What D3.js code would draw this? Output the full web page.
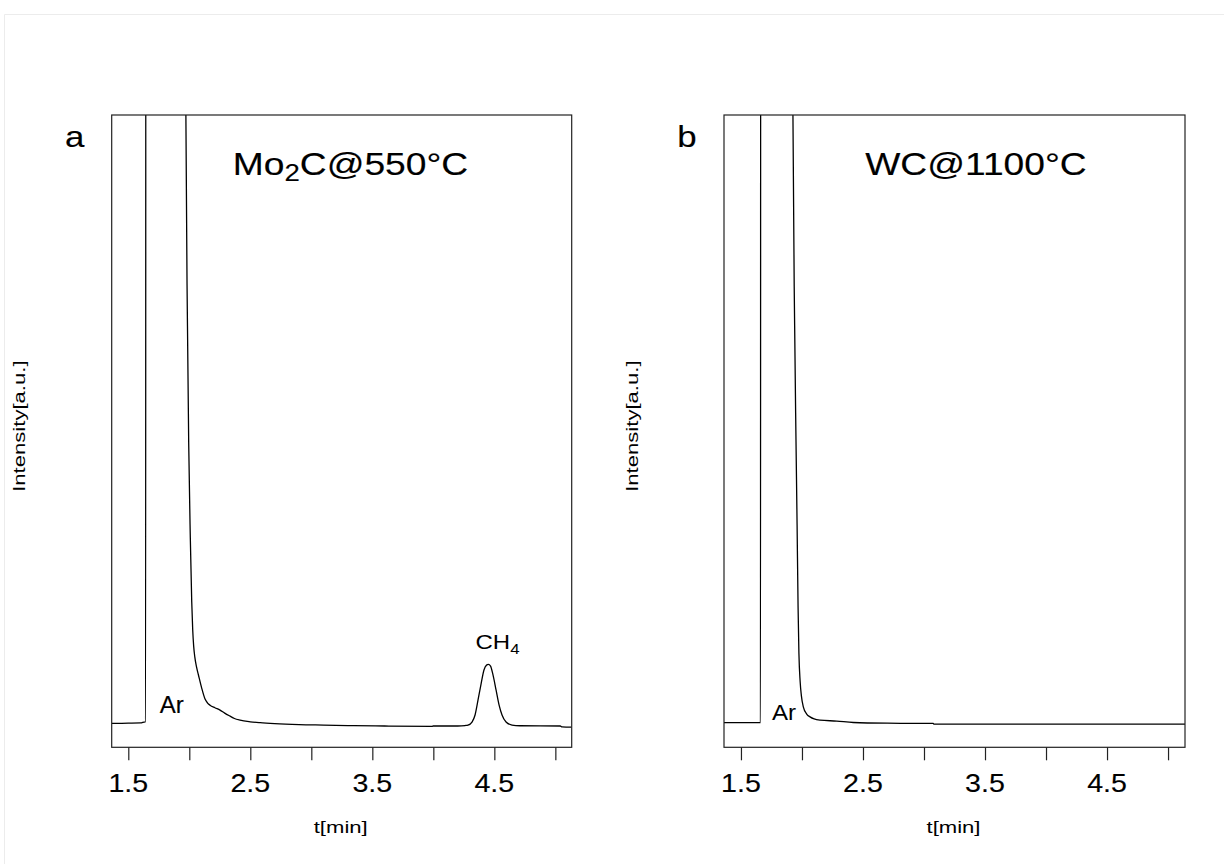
<!DOCTYPE html>
<html>
<head>
<meta charset="utf-8">
<script src="https://cdn.jsdelivr.net/npm/d3@7"></script>
<style>
  html, body { margin: 0; padding: 0; background: #fff; }
  svg { display: block; }
  text { font-family: "Liberation Sans", Arial, Helvetica, sans-serif; fill: #000; }
</style>
</head>
<body>
<svg id="chart" width="1224" height="864"></svg>
<script>
// Chromatogram traces: retention time (min) and detector intensity (a.u.)
const timeA = [1.364, 1.500, 1.600, 1.638, 1.642, 1.644, 1.966, 1.972, 1.985, 1.995, 2.008, 2.020, 2.028, 2.036, 2.045, 2.060, 2.074, 2.100, 2.129, 2.150, 2.170, 2.210, 2.252, 2.290, 2.334, 2.370, 2.416, 2.500, 2.580, 2.700, 2.900, 3.100, 3.300, 3.600, 3.990, 4.000, 4.200, 4.260, 4.284, 4.317, 4.342, 4.366, 4.391, 4.415, 4.436, 4.451, 4.469, 4.489, 4.514, 4.539, 4.563, 4.596, 4.645, 4.710, 5.040, 5.055, 5.134];
const intensityA = [0.01, 0.02, 0.03, 0.08, 0.08, 40, 40, 26, 17, 12, 8, 5.2, 4.0, 3.3, 2.85, 2.4, 2.1, 1.55, 1.05, 0.88, 0.79, 0.68, 0.58, 0.45, 0.32, 0.22, 0.15, 0.08, 0.04, 0.00, -0.04, -0.06, -0.08, -0.10, -0.115, -0.10, -0.10, -0.08, -0.06, 0.07, 0.37, 1.0, 1.69, 2.29, 2.50, 2.53, 2.46, 2.08, 1.44, 0.79, 0.37, 0.07, -0.06, -0.09, -0.10, -0.14, -0.15];

const timeB = [1.361, 1.500, 1.660, 1.662, 1.920, 1.926, 1.940, 1.950, 1.960, 1.968, 1.975, 1.985, 1.995, 2.011, 2.040, 2.066, 2.100, 2.148, 2.285, 2.421, 2.700, 3.076, 3.080, 4.000, 5.139];
const intensityB = [0.04, 0.04, 0.04, 40, 40, 26, 17, 12.5, 8.5, 5, 3.0, 1.8, 1.2, 0.72, 0.40, 0.29, 0.20, 0.15, 0.11, 0.05, 0.02, 0.01, -0.02, -0.02, -0.02];

// Axis ticks and labels
const tickValues = [1.5, 2.0, 2.5, 3.0, 3.5, 4.0, 4.5, 5.0];
const tickLabels = ["1.5", "2.5", "3.5", "4.5"];

// Panel annotations
const panelLetters = ["a", "b"];
const sampleNames = [["Mo", "2", "C@550°C"], ["WC@1100°C"]];

const svg = d3.select("#chart");

// light outer frame of the figure
svg.append("path")
  .attr("d", "M1224,14.5 H4.5 V864")
  .attr("fill", "none")
  .attr("stroke", "#ececec")
  .attr("stroke-width", 1);

const plotTop = 115, plotBottom = 747.3;
const panels = [
  { left: 111.7, right: 571.7, time: timeA, val: intensityA, xDomain: [1.364, 5.134] },
  { left: 724, right: 1185, time: timeB, val: intensityB, xDomain: [1.361, 5.139] }
];

// text helper: horizontally stretched label placed at (x, y)
function label(parent, x, y, size, sx, parts, opts = {}) {
  const g = parent.append("g")
    .attr("transform", `translate(${x},${y})${opts.rotate ? ` rotate(${opts.rotate})` : ""} scale(${sx},1)`);
  const t = g.append("text")
    .attr("text-anchor", opts.anchor || "middle")
    .attr("font-size", size);
  if (size >= 24) t.attr("stroke", "#000").attr("stroke-width", 0.15);
  parts.forEach(p => {
    const ts = t.append("tspan").text(p.text);
    if (p.sub) ts.attr("font-size", p.sub).attr("dy", p.dy);
    if (p.back) ts.attr("dy", p.back);
  });
  return g;
}

panels.forEach((p, i) => {
  const x = d3.scaleLinear().domain(p.xDomain).range([p.left, p.right]);
  const y = d3.scaleLinear().domain([-1.01, 26.0]).range([plotBottom, plotTop]);
  const g = svg.append("g");

  const clipId = "clip" + i;
  svg.append("clipPath").attr("id", clipId)
    .append("rect")
    .attr("x", p.left).attr("y", plotTop)
    .attr("width", p.right - p.left).attr("height", plotBottom - plotTop);

  const pts = p.time.map((t, k) => [t, p.val[k]]);
  const line = d3.line()
    .x(d => x(d[0]))
    .y(d => y(d[1]))
    .curve(d3.curveMonotoneX);

  g.append("path")
    .datum(pts)
    .attr("clip-path", `url(#${clipId})`)
    .attr("d", line)
    .attr("fill", "none")
    .attr("stroke", "#000")
    .attr("stroke-width", 1.3)
    .attr("stroke-linejoin", "round");

  // plot frame
  g.append("rect")
    .attr("x", p.left).attr("y", plotTop)
    .attr("width", p.right - p.left).attr("height", plotBottom - plotTop)
    .attr("fill", "none")
    .attr("stroke", "#222")
    .attr("stroke-width", 1.2);

  // bottom axis ticks
  const axis = d3.axisBottom(x)
    .tickValues(tickValues)
    .tickSize(13)
    .tickFormat("");
  const ax = g.append("g").attr("transform", `translate(0,${plotBottom})`).call(axis);
  ax.select(".domain").remove();
  ax.selectAll(".tick line").attr("stroke", "#222").attr("stroke-width", 1.2);

  tickLabels.forEach(s => {
    label(g, x(+s), 791.7, 26, 1.1, [{ text: s }]);
  });

  // axis titles
  label(g, (p.left + p.right) / 2 - 1, 833, 17, 1.3, [{ text: "t[min]" }]);
  label(g, p.left - 86.5, (plotTop + plotBottom) / 2 - 5, 17, 1.3, [{ text: "Intensity[a.u.]" }], { rotate: -90 });

  // panel letter
  label(g, p.left - 37, 146.7, 29, 1.2, [{ text: panelLetters[i] }]);

  // sample title
  const name = sampleNames[i];
  const titleParts = name.length === 3
    ? [{ text: name[0] }, { text: name[1], sub: 23, dy: 6 }, { text: name[2], back: -6 }]
    : [{ text: name[0] }];
  const titleX = i === 0 ? x(3.321) : x(3.426);
  label(g, titleX, 175, 31, 1.2, titleParts);

  // peak labels
  if (i === 0) {
    label(g, 171.7, 712.7, 24, 1.0, [{ text: "Ar" }]);
    label(g, 497.5, 649.3, 20, 1.2, [{ text: "CH" }, { text: "4", sub: 14, dy: 5 }]);
  } else {
    label(g, 784, 720, 21.5, 1.12, [{ text: "Ar" }]);
  }
});
</script>
</body>
</html>
